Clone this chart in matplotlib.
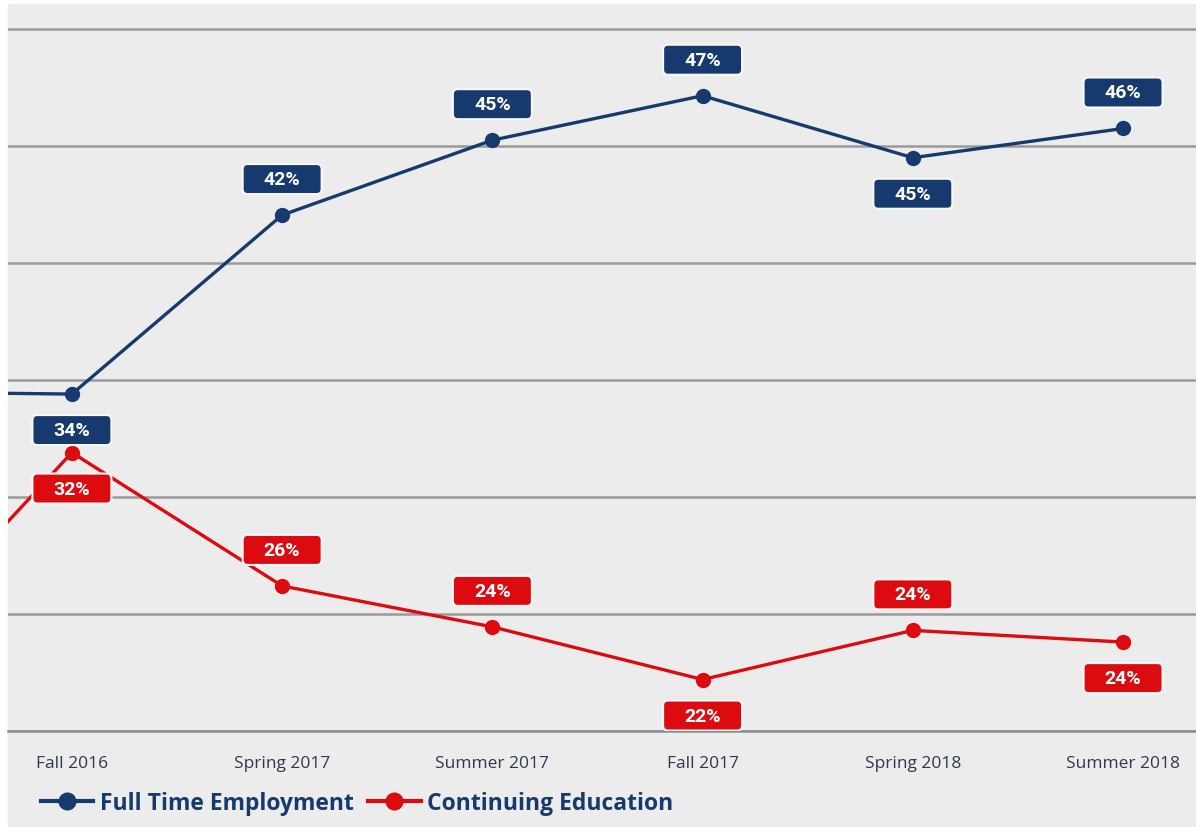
import matplotlib.pyplot as plt
import matplotlib.transforms as mtransforms
from matplotlib.patches import FancyBboxPatch, Rectangle
from matplotlib.lines import Line2D

# terms (first one is cut off at the left edge in the original)
terms = ['Summer 2016', 'Fall 2016', 'Spring 2017', 'Summer 2017',
         'Fall 2017', 'Spring 2018', 'Summer 2018']
full_time = [34.5, 34.4, 42.05, 45.25, 47.15, 44.5, 45.75]
cont_edu = [22.2, 31.9, 26.2, 24.45, 22.2, 24.3, 23.8]
full_time_labels = [None, '34%', '42%', '45%', '47%', '45%', '46%']
cont_edu_labels = [None, '32%', '26%', '24%', '22%', '24%', '24%']
# +1 = label above point, -1 = below
full_time_side = [0, -1, 1, 1, 1, -1, 1]
cont_edu_side = [0, -1, 1, 1, -1, 1, -1]

navy = '#163a6e'
red = '#db0b0f'
bg = '#ececec'

fig = plt.figure(figsize=(11.96, 8.28), dpi=100, facecolor='white')
fig.patches.append(Rectangle((8 / 1196, 0), 1, (828 - 5) / 828,
                             transform=fig.transFigure, color=bg, zorder=-10))
ax = fig.add_axes([8 / 1196, 96 / 828, 1 - 8 / 1196, (732 - 5) / 828])
ax.set_facecolor(bg)

x = list(range(len(terms)))
ax.plot(x, full_time, color=navy, lw=2.4, marker='o', ms=10, zorder=3)
ax.plot(x, cont_edu, color=red, lw=2.4, marker='o', ms=10, zorder=3)

ax.set_xticks(x)
ax.set_xticklabels(terms, family='Open Sans', fontsize=12.5, color='#2e3850')
ax.tick_params(axis='x', pad=17)
ax.set_yticks([20, 25, 30, 35, 40, 45, 50])
ax.set_yticklabels([])
ax.set_xlim(0.696, 6.347)
ax.set_ylim(20, 51.07)
ax.yaxis.grid(True, color='#9a9a9a', lw=1.8)
ax.set_axisbelow(True)
ax.tick_params(length=0)
for s in ax.spines.values():
    s.set_visible(False)
ax.spines['bottom'].set_visible(True)
ax.spines['bottom'].set_color('#8e8e8e')
ax.spines['bottom'].set_linewidth(1.8)


def add_labels(vals, labels, sides, color):
    for xi, v, lab, side in zip(x, vals, labels, sides):
        if lab is None:
            continue
        tr = fig.dpi_scale_trans + mtransforms.ScaledTranslation(xi, v, ax.transData)
        cy = 0.36 * side
        box = FancyBboxPatch((-0.395, cy - 0.15), 0.79, 0.30,
                             boxstyle='round,pad=0,rounding_size=0.05',
                             transform=tr, facecolor=color,
                             edgecolor='#f8f8f8', lw=1.5, zorder=4)
        ax.add_patch(box)
        ax.annotate(lab, (xi, v), xytext=(0, cy * 72), textcoords='offset points',
                    ha='center', va='center', color='white', fontsize=14,
                    family='Roboto', fontweight='bold', zorder=5)


add_labels(full_time, full_time_labels, full_time_side, navy)
add_labels(cont_edu, cont_edu_labels, cont_edu_side, red)

handles = [Line2D([], [], color=navy, lw=3, marker='o', ms=12),
           Line2D([], [], color=red, lw=3, marker='o', ms=12)]
fig.legend(handles, ['Full Time Employment', 'Continuing Education'],
           loc='center left', bbox_to_anchor=(20 / 1196, 1 - 804 / 828), ncol=2,
           frameon=False, handlelength=2.3, handletextpad=0.3, columnspacing=0.6,
           labelcolor=navy, prop={'family': 'Open Sans', 'weight': 'bold', 'size': 16.5})

fig.savefig('out.png', dpi=100, facecolor='white')
